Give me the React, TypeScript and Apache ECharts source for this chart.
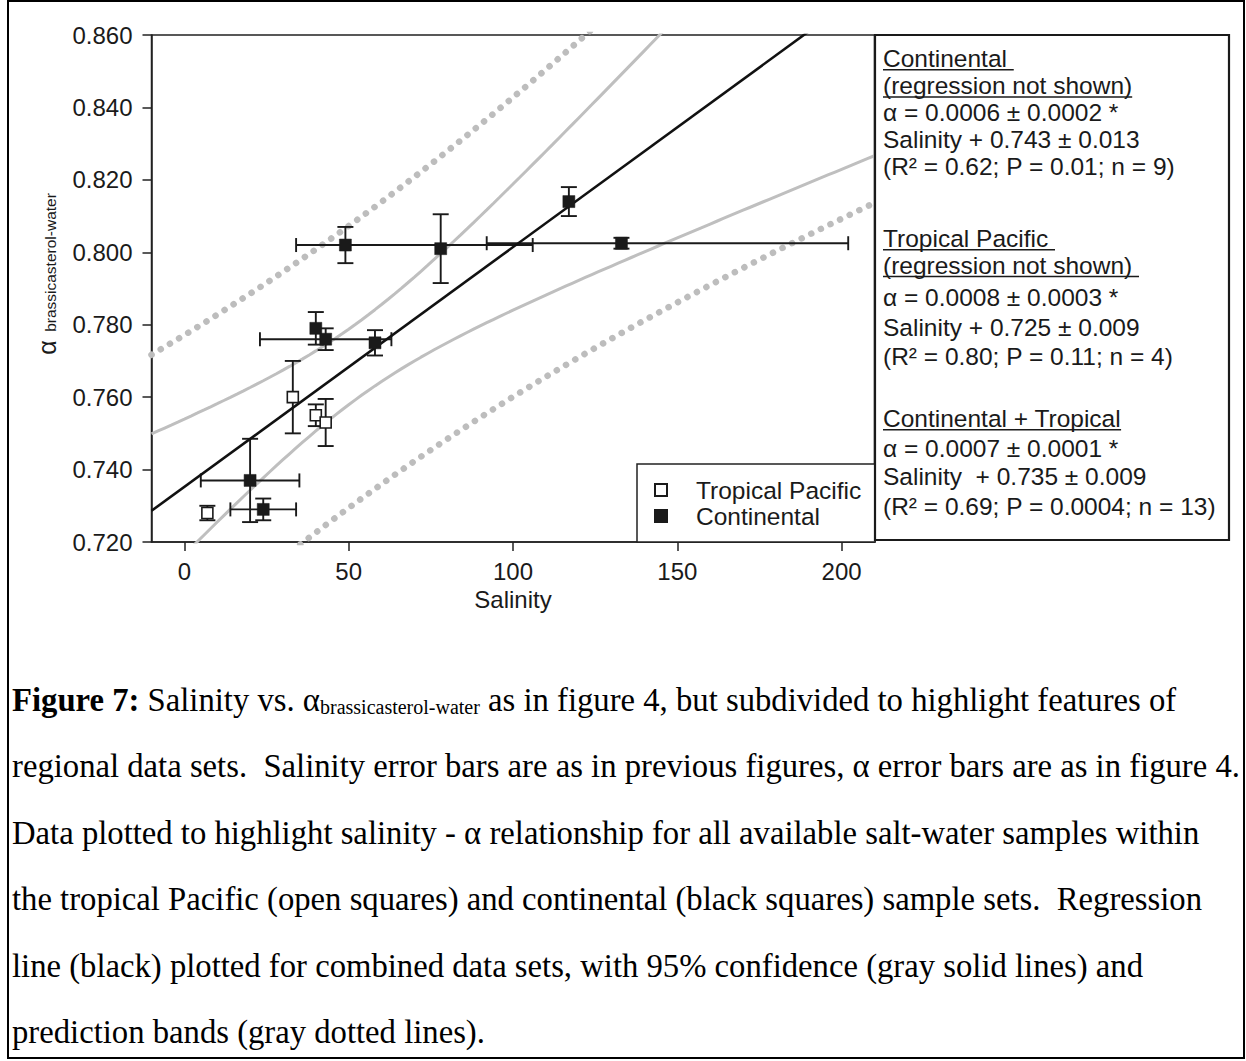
import React, { useEffect, useRef } from "react";
import * as echarts from "echarts";

// Tropical Pacific samples (open squares): salinity, alpha, alpha error (±)
const tropicalSalinity = [7, 33, 40, 43];
const tropicalAlpha = [0.728, 0.76, 0.755, 0.753];
const tropicalAlphaErr = [0.002, 0.01, 0.003, 0.0065];

// Continental samples (black squares): salinity, alpha, alpha error (±), salinity range
const continentalSalinity = [20, 24, 40, 43, 58, 49, 78, 133, 117];
const continentalAlpha = [0.737, 0.729, 0.779, 0.776, 0.775, 0.802, 0.801, 0.8025, 0.814];
const continentalAlphaErr = [0.0115, 0.003, 0.0045, 0.003, 0.0035, 0.005, 0.0095, 0.0015, 0.004];
const continentalSalinityLow = [5, 14, null, 23, null, 34, null, 92, null];
const continentalSalinityHigh = [35, 34, null, 63, null, 106, null, 202, null];

// Axis ticks
const xTicks = [0, 50, 100, 150, 200];

// Student t (two-sided 95%, 11 degrees of freedom) for the bands
const T_95_DF11 = 2.201;

// Regression summary box
const statLines = [
  "Continental ",
  "(regression not shown)",
  "\u03b1 = 0.0006 \u00b1 0.0002 *",
  "Salinity + 0.743 \u00b1 0.013",
  "(R\u00b2 = 0.62; P = 0.01; n = 9)",
  "Tropical Pacific ",
  "(regression not shown) ",
  "\u03b1 = 0.0008 \u00b1 0.0003 *",
  "Salinity + 0.725 \u00b1 0.009",
  "(R\u00b2 = 0.80; P = 0.11; n = 4)",
  "Continental + Tropical",
  "\u03b1 = 0.0007 \u00b1 0.0001 *",
  "Salinity  + 0.735 \u00b1 0.009",
  "(R\u00b2 = 0.69; P = 0.0004; n = 13)",
];
const statUnderlined = [true, true, false, false, false, true, true, false, false, false, true, false, false, false];
const statBaselines = [66.7, 94, 120.5, 148, 175, 246.7, 273.5, 306, 336, 365, 426.7, 456.7, 485, 515];

// Figure caption
const captionLines = [
  "{b|Figure 7:} Salinity vs. \u03b1{s|brassicasterol-water} as in figure 4, but subdivided to highlight features of",
  "regional data sets.  Salinity error bars are as in previous figures, \u03b1 error bars are as in figure 4.",
  "Data plotted to highlight salinity - \u03b1 relationship for all available salt-water samples within",
  "the tropical Pacific (open squares) and continental (black squares) sample sets.  Regression",
  "line (black) plotted for combined data sets, with 95% confidence (gray solid lines) and",
  "prediction bands (gray dotted lines).",
];

const SANS = '"Liberation Sans", Arial, Helvetica, sans-serif';
const SERIF = '"Liberation Serif", "Times New Roman", serif';
const INK = "#1a1a1a";

// Ordinary least squares fit of alpha on salinity
function linearFit(xs: number[], ys: number[]) {
  const n = xs.length;
  const mx = xs.reduce((a, b) => a + b, 0) / n;
  const my = ys.reduce((a, b) => a + b, 0) / n;
  let sxx = 0;
  let sxy = 0;
  xs.forEach((x, i) => {
    sxx += (x - mx) * (x - mx);
    sxy += (x - mx) * (ys[i] - my);
  });
  const slope = sxy / sxx;
  const intercept = my - slope * mx;
  let sse = 0;
  xs.forEach((x, i) => {
    const r = ys[i] - (intercept + slope * x);
    sse += r * r;
  });
  const s = Math.sqrt(sse / (n - 2));
  return { n, mx, sxx, slope, intercept, s };
}

function measure(text: string, font: string) {
  const ctx = document.createElement("canvas").getContext("2d");
  if (!ctx) return text.length * 12;
  ctx.font = font;
  return ctx.measureText(text).width;
}

export default function App() {
  const ref = useRef<HTMLDivElement>(null);

  useEffect(() => {
    const el = ref.current;
    if (!el) return;
    const chart = echarts.init(el, null, { renderer: "svg" });

    const fit = linearFit(
      [...tropicalSalinity, ...continentalSalinity],
      [...tropicalAlpha, ...continentalAlpha]
    );
    const predict = (x: number) => fit.intercept + fit.slope * x;
    const halfWidth = (x: number, extra: number) =>
      T_95_DF11 * fit.s * Math.sqrt(extra + 1 / fit.n + ((x - fit.mx) * (x - fit.mx)) / fit.sxx);

    const xMin = -10;
    const xMax = 210;
    const xs: number[] = [];
    for (let x = xMin; x <= xMax; x += 2) xs.push(x);

    const confUpper = xs.map((x) => [x, predict(x) + halfWidth(x, 0)]);
    const confLower = xs.map((x) => [x, predict(x) - halfWidth(x, 0)]);
    const predUpper = xs.map((x) => [x, predict(x) + halfWidth(x, 1)]);
    const predLower = xs.map((x) => [x, predict(x) - halfWidth(x, 1)]);
    const fitLine = [
      [xMin, predict(xMin)],
      [xMax, predict(xMax)],
    ];

    const errorData = [
      ...tropicalSalinity.map((x, i) => [x, tropicalAlpha[i], tropicalAlphaErr[i], null, null]),
      ...continentalSalinity.map((x, i) => [
        x,
        continentalAlpha[i],
        continentalAlphaErr[i],
        continentalSalinityLow[i],
        continentalSalinityHigh[i],
      ]),
    ];

    const bandSolid = { color: "#bfbfbf", width: 3 };
    const bandDotted = { color: "#bdbdbd", width: 6.5, type: [0.1, 10.6], cap: "round" };

    const statSize = 24.5;
    const statFont = `${statSize}px ${SANS}`;
    const statX = 883;
    const statGraphics: any[] = [];
    statLines.forEach((t, i) => {
      statGraphics.push({
        type: "text",
        x: statX,
        y: statBaselines[i] - 8.5,
        style: {
          text: t,
          fontFamily: SANS,
          fontSize: statSize,
          fill: INK,
          align: "left",
          verticalAlign: "middle",
          textAlign: "left",
          textVerticalAlign: "middle",
        },
        z: 10,
      });
      if (statUnderlined[i]) {
        const w = measure(t, statFont);
        statGraphics.push({
          type: "line",
          shape: { x1: statX, y1: statBaselines[i] + 3, x2: statX + w, y2: statBaselines[i] + 3 },
          style: { stroke: INK, lineWidth: 1.5 },
          z: 10,
        });
      }
    });

    const capFontSize = 32.7;
    const captionRich = {
      b: { fontFamily: SERIF, fontSize: capFontSize, fontWeight: "bold", fill: "#000" },
      s: { fontFamily: SERIF, fontSize: 20, fill: "#000", verticalAlign: "bottom", lineHeight: 14 },
    };
    const captionGraphics = captionLines.map((line, i) => ({
      type: "text",
      x: 12,
      y: 700 + i * 66.4,
      style: {
        text: line,
        fontFamily: SERIF,
        fontSize: capFontSize,
        fill: "#000",
        rich: captionRich,
        align: "left",
        verticalAlign: "middle",
        textAlign: "left",
        textVerticalAlign: "middle",
      },
      z: 10,
    }));

    const option: any = {
      animation: false,
      backgroundColor: "#ffffff",
      textStyle: { fontFamily: SANS },
      grid: {
        left: 151.5,
        top: 35,
        width: 723,
        height: 507,
        show: true,
        borderColor: "#222",
        borderWidth: 1.5,
        backgroundColor: "transparent",
        containLabel: false,
        outerBoundsMode: "none",
      },
      xAxis: {
        type: "value",
        min: xMin,
        max: xMax,
        splitLine: { show: false },
        axisLine: { show: true, onZero: false, lineStyle: { color: "#222", width: 1.5 } },
        axisTick: { show: true, inside: false, length: 9, customValues: xTicks, lineStyle: { color: "#222", width: 1.5 } },
        axisLabel: {
          customValues: xTicks,
          fontSize: 24,
          fontFamily: SANS,
          color: INK,
          margin: 17,
        },
        name: "Salinity",
        nameLocation: "middle",
        nameGap: 45,
        nameTextStyle: { fontSize: 24, fontFamily: SANS, color: INK },
      },
      yAxis: {
        type: "value",
        min: 0.72,
        max: 0.86,
        interval: 0.02,
        splitLine: { show: false },
        axisLine: { show: true, onZero: false, lineStyle: { color: "#222", width: 1.5 } },
        axisTick: { show: true, inside: false, length: 9, lineStyle: { color: "#222", width: 1.5 } },
        axisLabel: {
          fontSize: 24,
          fontFamily: SANS,
          color: INK,
          margin: 19,
          formatter: (v: number) => v.toFixed(3),
        },
      },
      legend: {
        orient: "vertical",
        left: 637,
        top: 464,
        padding: [13, 14, 13, 17],
        itemWidth: 12,
        itemHeight: 12,
        itemGap: 0,
        selectedMode: false,
        backgroundColor: "#ffffff",
        borderColor: "#222",
        borderWidth: 1.5,
        borderRadius: 0,
        data: [
          { name: "Tropical Pacific", icon: "rect" },
          { name: "Continental", icon: "rect" },
        ],
        textStyle: { fontSize: 24.5, fontFamily: SANS, color: INK, lineHeight: 26, padding: [0, 0, 0, 24] },
      },
      series: [
        { type: "line", name: "conf-upper", data: confUpper, showSymbol: false, silent: true, lineStyle: bandSolid, z: 1 },
        { type: "line", name: "conf-lower", data: confLower, showSymbol: false, silent: true, lineStyle: bandSolid, z: 1 },
        { type: "line", name: "pred-upper", data: predUpper, showSymbol: false, silent: true, lineStyle: bandDotted, z: 1 },
        { type: "line", name: "pred-lower", data: predLower, showSymbol: false, silent: true, lineStyle: bandDotted, z: 1 },
        {
          type: "custom",
          name: "error-bars",
          silent: true,
          z: 2,
          encode: { x: 0, y: 1 },
          data: errorData,
          renderItem: (params: any, api: any) => {
            const x = api.value(0);
            const y = api.value(1);
            const e = api.value(2);
            const lo = api.value(3);
            const hi = api.value(4);
            const style = { stroke: INK, lineWidth: 1.9, fill: "none" };
            const top = api.coord([x, y + e]);
            const bot = api.coord([x, y - e]);
            const capHalf = 8;
            const children: any[] = [
              { type: "line", shape: { x1: top[0], y1: top[1], x2: bot[0], y2: bot[1] }, style },
              { type: "line", shape: { x1: top[0] - capHalf, y1: top[1], x2: top[0] + capHalf, y2: top[1] }, style },
              { type: "line", shape: { x1: bot[0] - capHalf, y1: bot[1], x2: bot[0] + capHalf, y2: bot[1] }, style },
            ];
            if (!isNaN(lo) && !isNaN(hi) && lo !== null && hi !== null) {
              const l = api.coord([lo, y]);
              const r = api.coord([hi, y]);
              const vHalf = 7;
              children.push(
                { type: "line", shape: { x1: l[0], y1: l[1], x2: r[0], y2: r[1] }, style },
                { type: "line", shape: { x1: l[0], y1: l[1] - vHalf, x2: l[0], y2: l[1] + vHalf }, style },
                { type: "line", shape: { x1: r[0], y1: r[1] - vHalf, x2: r[0], y2: r[1] + vHalf }, style }
              );
            }
            return { type: "group", children };
          },
        },
        {
          type: "line",
          name: "regression",
          data: fitLine,
          showSymbol: false,
          silent: true,
          lineStyle: { color: "#111", width: 2.6 },
          z: 3,
        },
        {
          type: "scatter",
          name: "Tropical Pacific",
          data: tropicalSalinity.map((x, i) => [x, tropicalAlpha[i]]),
          symbol: "rect",
          symbolSize: 11,
          itemStyle: { color: "#ffffff", borderColor: INK, borderWidth: 1.6, opacity: 1 },
          z: 5,
        },
        {
          type: "scatter",
          name: "Continental",
          data: continentalSalinity.map((x, i) => [x, continentalAlpha[i]]),
          symbol: "rect",
          symbolSize: 12,
          itemStyle: { color: INK, borderColor: INK, borderWidth: 0.5, opacity: 1 },
          z: 5,
        },
      ],
      graphic: [
        {
          type: "rect",
          shape: { x: 8, y: 1, width: 1236, height: 1057 },
          style: { fill: "none", stroke: "#000", lineWidth: 2 },
          silent: true,
          z: 0,
        },
        {
          type: "rect",
          shape: { x: 875, y: 35, width: 354, height: 505 },
          style: { fill: "none", stroke: INK, lineWidth: 2.2 },
          silent: true,
          z: 10,
        },
        {
          type: "text",
          x: 46.7,
          y: 347.5,
          rotation: Math.PI / 2,
          style: {
            text: "\u03b1",
            fontFamily: SANS,
            fontSize: 25,
            fill: INK,
            align: "center",
            verticalAlign: "middle",
            textAlign: "center",
            textVerticalAlign: "middle",
          },
          z: 10,
        },
        {
          type: "text",
          x: 50,
          y: 262.5,
          rotation: Math.PI / 2,
          style: {
            text: "brassicasterol-water",
            fontFamily: SANS,
            fontSize: 15.5,
            fill: INK,
            align: "center",
            verticalAlign: "middle",
            textAlign: "center",
            textVerticalAlign: "middle",
          },
          z: 10,
        },
        ...statGraphics,
        ...captionGraphics,
      ],
    };

    chart.setOption(option);
    return () => chart.dispose();
  }, []);

  return (
    <div
      ref={ref}
      style={{ position: "absolute", left: 0, top: 0, width: 1246, height: 1061, background: "#fff" }}
    />
  );
}
